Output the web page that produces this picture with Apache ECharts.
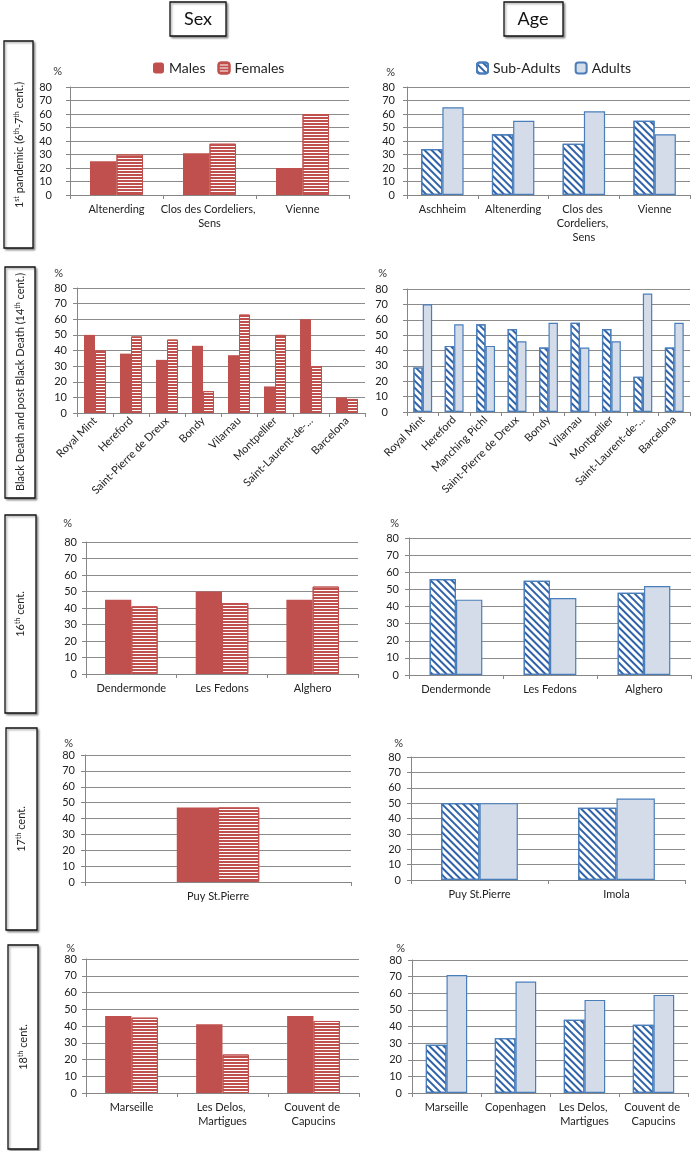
<!DOCTYPE html>
<html>
<head>
<meta charset="utf-8">
<script src="https://cdn.jsdelivr.net/npm/echarts@6/dist/echarts.min.js"></script>
<style>
  html, body { margin: 0; padding: 0; background: #fff; }
  #chart { width: 700px; height: 1151px; }
</style>
</head>
<body>
<div id="chart"></div>
<script>
// Plague victims by sex and age, per period

// 1st pandemic
var pandemicSexSites = ['Altenerding', 'Clos des Cordeliers, Sens', 'Vienne'];
var pandemicMales = [25, 31, 20];
var pandemicFemales = [30, 38, 60];
var pandemicAgeSites = ['Aschheim', 'Altenerding', 'Clos des Cordeliers, Sens', 'Vienne'];
var pandemicSubAdults = [34, 45, 38, 55];
var pandemicAdults = [65, 55, 62, 45];

// Black Death and post Black Death (14th cent.)
var blackDeathSexSites = ['Royal Mint', 'Hereford', 'Saint-Pierre de Dreux', 'Bondy', 'Vilarnau', 'Montpellier', 'Saint-Laurent-de-...', 'Barcelona'];
var blackDeathMales = [50, 38, 34, 43, 37, 17, 60, 10];
var blackDeathFemales = [40, 49, 47, 14, 63, 50, 30, 9];
var blackDeathAgeSites = ['Royal Mint', 'Hereford', 'Manching Pichl', 'Saint-Pierre de Dreux', 'Bondy', 'Vilarnau', 'Montpellier', 'Saint-Laurent-de-...', 'Barcelona'];
var blackDeathSubAdults = [29, 43, 57, 54, 42, 58, 54, 23, 42];
var blackDeathAdults = [70, 57, 43, 46, 58, 42, 46, 77, 58];

// 16th cent.
var c16Sites = ['Dendermonde', 'Les Fedons', 'Alghero'];
var c16Males = [45, 50, 45];
var c16Females = [41, 43, 53];
var c16SubAdults = [56, 55, 48];
var c16Adults = [44, 45, 52];

// 17th cent.
var c17SexSites = ['Puy St.Pierre'];
var c17Males = [47];
var c17Females = [47];
var c17AgeSites = ['Puy St.Pierre', 'Imola'];
var c17SubAdults = [50, 47];
var c17Adults = [50, 53];

// 18th cent.
var c18SexSites = ['Marseille', 'Les Delos, Martigues', 'Couvent de Capucins'];
var c18Males = [46, 41, 46];
var c18Females = [45, 23, 43];
var c18AgeSites = ['Marseille', 'Copenhagen', 'Les Delos, Martigues', 'Couvent de Capucins'];
var c18SubAdults = [29, 33, 44, 41];
var c18Adults = [71, 67, 56, 59];

// y axis ticks (%)
var percentTicks = [0, 10, 20, 30, 40, 50, 60, 70, 80];

var FONT = 'Lato, "Open Sans", sans-serif';
var RED = '#c0504d';
var BLUE = '#4a7ebb';
var AXIS = '#868686';
var TEXT = '#222';

var chart = echarts.init(document.getElementById('chart'));

// layout of the ten small charts
var panels = [
    { kind: 'sex', cats: pandemicSexSites, a: pandemicMales, b: pandemicFemales,
      left: 70, top: 87, width: 279, height: 108, labelGap: 18, pctPad: 8, pctGap: 16, wrap: 110, catGap: '43%' },
    { kind: 'age', cats: pandemicAgeSites, a: pandemicSubAdults, b: pandemicAdults,
      left: 407, top: 87, width: 283, height: 108, labelGap: 12, pctPad: 12, pctGap: 15, wrap: 62, catGap: '40%' },
    { kind: 'sex', cats: blackDeathSexSites, a: blackDeathMales, b: blackDeathFemales,
      left: 77, top: 288, width: 288, height: 125, labelGap: 10, pctPad: 14, pctGap: 15, rotate: 45, catGap: '39%' },
    { kind: 'age', cats: blackDeathAgeSites, a: blackDeathSubAdults, b: blackDeathAdults,
      left: 407, top: 289, width: 283, height: 123, labelGap: 19, pctPad: 20, pctGap: 16, rotate: 45, catGap: '40%' },
    { kind: 'sex', cats: c16Sites, a: c16Males, b: c16Females,
      left: 86, top: 542, width: 272, height: 132, labelGap: 9, pctPad: 14, pctGap: 19, wrap: 90, catGap: '42%' },
    { kind: 'age', cats: c16Sites, a: c16SubAdults, b: c16Adults,
      left: 409, top: 538, width: 282, height: 137, labelGap: 10, pctPad: 10, pctGap: 15, wrap: 90, catGap: '44%' },
    { kind: 'sex', cats: c17SexSites, a: c17Males, b: c17Females,
      left: 85, top: 755, width: 266, height: 127, labelGap: 10, pctPad: 12, pctGap: 12, wrap: 120, catGap: '69%' },
    { kind: 'age', cats: c17AgeSites, a: c17SubAdults, b: c17Adults,
      left: 411, top: 757, width: 274, height: 123, labelGap: 10, pctPad: 8, pctGap: 14, wrap: 120, catGap: '44%' },
    { kind: 'sex', cats: c18SexSites, a: c18Males, b: c18Females,
      left: 86, top: 959, width: 273, height: 134, labelGap: 9, pctPad: 11, pctGap: 11, wrap: 70, catGap: '42%' },
    { kind: 'age', cats: c18AgeSites, a: c18SubAdults, b: c18Adults,
      left: 412, top: 960, width: 276, height: 133, labelGap: 10, pctPad: 7, pctGap: 12, wrap: 66, catGap: '40%' }
];

var styles = {
    Males: { color: RED },
    Females: {
        color: '#fff', borderColor: RED, borderWidth: 1,
        decal: { symbol: 'rect', symbolSize: 1, dashArrayX: [1, 0], dashArrayY: [2, 1], color: RED }
    },
    'Sub-Adults': {
        color: '#fff', borderColor: BLUE, borderWidth: 1.2,
        decal: { symbol: 'rect', symbolSize: 1, dashArrayX: [1, 0], dashArrayY: [2, 3], rotation: Math.PI / 4, color: '#2f62a8' }
    },
    Adults: { color: '#d3dce8', borderColor: BLUE, borderWidth: 1.2 }
};

var grids = [], xAxes = [], yAxes = [], series = [];

panels.forEach(function (p, i) {
    grids.push({ left: p.left, top: p.top, width: p.width, height: p.height, containLabel: false });

    var label = { interval: 0, fontSize: 11, color: TEXT, fontFamily: FONT, margin: 7, lineHeight: 14 };
    if (p.rotate) {
        label.rotate = p.rotate;
        label.margin = 6;
    } else {
        label.width = p.wrap;
        label.overflow = 'break';
    }
    xAxes.push({
        type: 'category', gridIndex: i, data: p.cats,
        axisLine: { lineStyle: { color: AXIS } },
        axisTick: { show: true, length: 4, lineStyle: { color: AXIS } },
        axisLabel: label
    });

    yAxes.push({
        type: 'value', gridIndex: i,
        min: percentTicks[0], max: percentTicks[percentTicks.length - 1],
        interval: percentTicks[1] - percentTicks[0],
        name: '%', nameLocation: 'end', nameGap: p.pctGap,
        nameTextStyle: { align: 'right', verticalAlign: 'middle', padding: [0, p.pctPad, 0, 0], fontSize: 11, color: '#333', fontFamily: FONT },
        axisLine: { show: true, lineStyle: { color: AXIS } },
        axisTick: { show: true, length: 4, lineStyle: { color: AXIS } },
        axisLabel: { margin: p.labelGap, fontSize: 11, color: TEXT, fontFamily: FONT },
        splitLine: { lineStyle: { color: '#8c8c8c', width: 1 } }
    });

    var names = p.kind === 'sex' ? ['Males', 'Females'] : ['Sub-Adults', 'Adults'];
    [p.a, p.b].forEach(function (vals, k) {
        series.push({
            type: 'bar', name: names[k], xAxisIndex: i, yAxisIndex: i,
            data: vals, barGap: '0%', barCategoryGap: p.catGap,
            itemStyle: styles[names[k]], emphasis: { disabled: true }
        });
    });
});

// boxes around the column headers and period labels
function box(x, y, w, h) {
    return {
        type: 'rect', shape: { x: x, y: y, width: w, height: h }, silent: true,
        style: { fill: '#fff', stroke: '#111', lineWidth: 1.3, shadowBlur: 2, shadowOffsetX: 1.5, shadowOffsetY: 1.5, shadowColor: 'rgba(0,0,0,0.35)' }
    };
}
function sideLabel(x, y, text) {
    return {
        type: 'text', x: x, y: y, rotation: Math.PI / 2, silent: true,
        style: {
            text: text, fontSize: 11, fontFamily: FONT, fill: TEXT, align: 'center', verticalAlign: 'middle',
            rich: { s: { fontSize: 7, verticalAlign: 'top', fontFamily: FONT, fill: TEXT } }
        }
    };
}

var graphics = [
    box(170, 2, 56, 34),
    { type: 'text', x: 198, y: 19, silent: true, style: { text: 'Sex', fontSize: 18, fontFamily: FONT, fill: '#111', align: 'center', verticalAlign: 'middle' } },
    box(504, 2, 59, 34),
    { type: 'text', x: 533, y: 19, silent: true, style: { text: 'Age', fontSize: 18, fontFamily: FONT, fill: '#111', align: 'center', verticalAlign: 'middle' } },
    box(4, 41, 29, 207),
    sideLabel(19, 145, '1{s|st} pandemic (6{s|th}-7{s|th} cent.)'),
    box(5, 267, 30, 231),
    sideLabel(20, 382, 'Black Death and post Black Death (14{s|th} cent.)'),
    box(5, 515, 31, 198),
    sideLabel(20, 614, '16{s|th} cent.'),
    box(6, 728, 31, 202),
    sideLabel(21, 829, '17{s|th} cent.'),
    box(8, 945, 30, 204),
    sideLabel(23, 1047, '18{s|th} cent.')
];

var option = {
    animation: false,
    backgroundColor: '#fff',
    textStyle: { fontFamily: FONT },
    legend: [
        {
            data: ['Males', 'Females'], left: 148, top: 56, itemWidth: 11, itemHeight: 11, itemGap: 12,
            selectedMode: false, textStyle: { fontSize: 14, color: TEXT, fontFamily: FONT }
        },
        {
            data: ['Sub-Adults', 'Adults'], left: 471, top: 56, itemWidth: 11, itemHeight: 11, itemGap: 14,
            selectedMode: false, textStyle: { fontSize: 14, color: TEXT, fontFamily: FONT }
        }
    ],
    grid: grids,
    xAxis: xAxes,
    yAxis: yAxes,
    series: series,
    graphic: graphics
};

chart.setOption(option);
</script>
</body>
</html>
